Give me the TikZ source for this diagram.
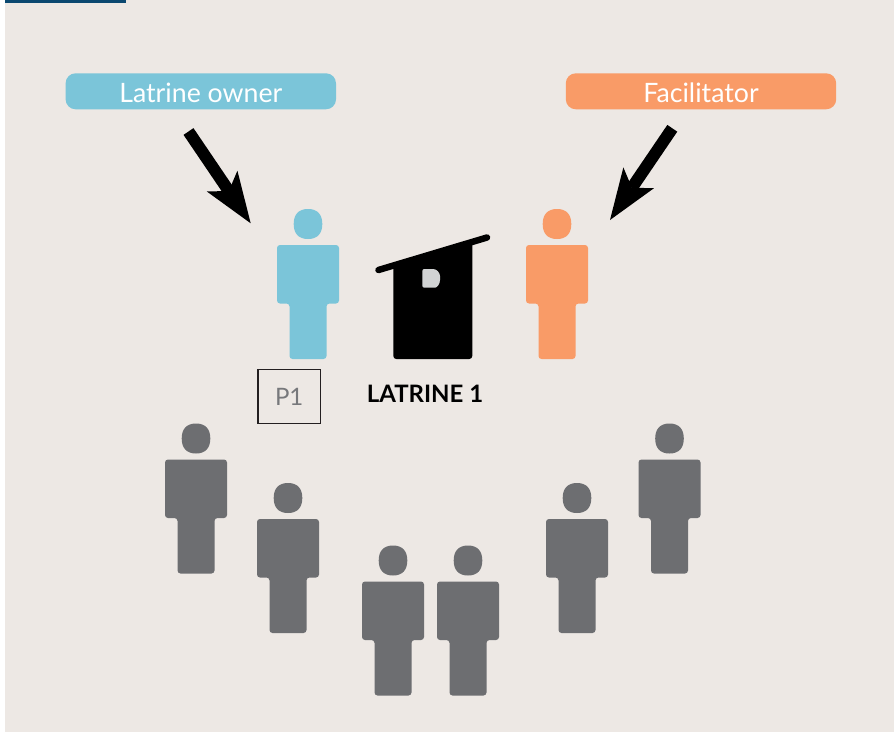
\documentclass[tikz,border=0pt]{standalone}
\usepackage{fontspec}
\setmainfont{Lato}
\usetikzlibrary{arrows.meta}
\definecolor{bgc}{HTML}{EDE8E4}
\definecolor{barc}{HTML}{0B4870}
\definecolor{ownerc}{HTML}{7BC5D9}
\definecolor{facilc}{HTML}{F99B67}
\definecolor{crowdc}{HTML}{6D6E71}
\definecolor{winc}{HTML}{D1D3D4}
\definecolor{pgray}{HTML}{77787B}
\definecolor{pbord}{HTML}{231F20}
\tikzset{
  x=1pt,y=-1pt,
  rolebox/.style={rounded corners=10pt,minimum width=270.4pt,minimum height=36pt,inner sep=0pt,text=white,text height=21.5pt,text depth=0pt,font=\fontsize{26.7}{30}\selectfont},
  bigarrow/.style={line width=12pt,-{Stealth[length=51pt,width=37pt,inset=12pt,line width=0pt]}},
  person/.pic={
    \fill[pic actions,rounded corners=3pt] (-31,0) -- (31,0) -- (31,58.5) -- (18.5,58.5) -- (18.5,114) -- (-18.5,114) -- (-18.5,58.5) -- (-31,58.5) -- cycle;
    \fill[pic actions] (0,-36) .. controls (9.5,-36) and (14.3,-30.5) .. (14.3,-21)
      .. controls (14.3,-11.5) and (9.5,-6) .. (0,-6)
      .. controls (-9.5,-6) and (-14.3,-11.5) .. (-14.3,-21)
      .. controls (-14.3,-30.5) and (-9.5,-36) .. (0,-36) -- cycle;
  }
}
\begin{document}
\begin{tikzpicture}
\useasboundingbox (0,0) rectangle (894,733);
\fill[white] (0,0) rectangle (894,733);
\fill[bgc] (5,0) rectangle (894,732);
\fill[barc] (5,0) rectangle (126,3);

\node[rolebox,fill=ownerc] (owner) at (200.8,91.3) {Latrine owner};
\node[rolebox,fill=facilc] (facil) at (701,91.3) {Facilitator};

\coordinate (a1s) at (188.5,131.5);
\coordinate (a1e) at (250.7,223.3);
\coordinate (a2s) at (672.3,128.3);
\coordinate (a2e) at (610,220);
\draw[bigarrow] (a1s) -- (a1e);
\draw[bigarrow] (a2s) -- (a2e);

\pic[fill=ownerc] (pOwner) at (308,245) {person};
\pic[fill=facilc] (pFacil) at (557,245) {person};
\pic[fill=crowdc] (p1) at (196,459.5) {person};
\pic[fill=crowdc] (p2) at (288,519) {person};
\pic[fill=crowdc] (p3) at (393,581.5) {person};
\pic[fill=crowdc] (p4) at (468,581.5) {person};
\pic[fill=crowdc] (p5) at (577,519) {person};
\pic[fill=crowdc] (p6) at (669.5,459.5) {person};

% latrine
\fill[black] (393.3,265) -- (472.3,243) -- (472.3,356) arc[start angle=0,end angle=90,radius=3] -- (396.3,359) arc[start angle=90,end angle=180,radius=3] -- cycle;
\draw[black,line width=6.5pt,line cap=round] (378.5,270) -- (487,237.5);
\fill[winc,rounded corners=2pt] (422.3,269) -- (431,269) .. controls (437,269) and (440,273) .. (440,278) .. controls (440,284) and (437,287.7) .. (433,287.7) -- (422.3,287.7) -- cycle;

\node[draw=pbord,line width=1.3pt,minimum width=62.5pt,minimum height=54.5pt,inner sep=0pt,text=pgray,font=\fontsize{24}{28}\selectfont] (p1box) at (289.2,396.5) {P1};
\node[inner sep=0pt,font=\fontsize{24}{28}\selectfont\bfseries,text=black] (lat) at (425,393.5) {LATRINE 1};
\end{tikzpicture}
\end{document}
